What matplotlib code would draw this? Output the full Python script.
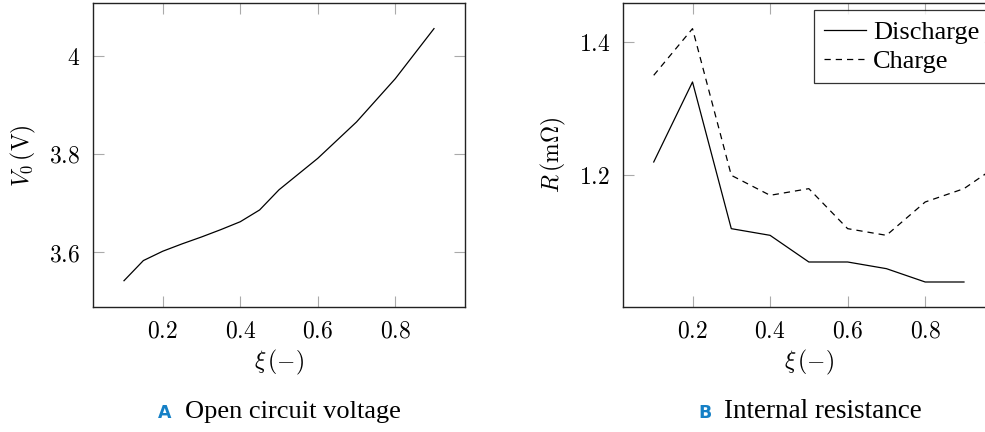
import matplotlib
matplotlib.use("Agg")
import matplotlib.pyplot as plt
import numpy as np

plt.rcParams['mathtext.fontset'] = 'cm'
plt.rcParams['font.family'] = 'serif'
plt.rcParams['font.serif'] = ['DejaVu Serif']

# open circuit voltage vs state of charge
soc_ocv = [0.1, 0.15, 0.2, 0.25, 0.3, 0.35, 0.4, 0.45, 0.5, 0.6, 0.7, 0.8, 0.9]
v0 = [3.542, 3.583, 3.602, 3.617, 3.631, 3.646, 3.662, 3.686, 3.727, 3.791, 3.865, 3.953, 4.055]

# internal resistance
soc_dis = [0.1, 0.2, 0.3, 0.4, 0.5, 0.6, 0.7, 0.8, 0.9]
r_dis = [1.22, 1.34, 1.12, 1.11, 1.07, 1.07, 1.06, 1.04, 1.04]
soc_chg = [0.1, 0.2, 0.3, 0.4, 0.5, 0.6, 0.7, 0.8, 0.9, 1.0]
r_chg = [1.35, 1.42, 1.20, 1.17, 1.18, 1.12, 1.11, 1.16, 1.18, 1.22]

xticks = [0.2, 0.4, 0.6, 0.8]
v_ticks = [3.6, 3.8, 4.0]
v_labels = ['3.6', '3.8', '4']
r_ticks = [1.2, 1.4]
r_labels = ['1.2', '1.4']

fs = 17
W, H = 985, 432
fig = plt.figure(figsize=(W / 100, H / 100), dpi=100)

def px_axes(x0, x1, y0, y1):
    return fig.add_axes([x0 / W, 1 - y1 / H, (x1 - x0) / W, (y1 - y0) / H])

def style(ax):
    for s in ax.spines.values():
        s.set_linewidth(1.0)
        s.set_color('#222222')
    ax.tick_params(direction='in', length=8, width=0.8, color='#aaaaaa',
                   top=True, right=True, labelsize=fs, pad=9)

ax1 = px_axes(93, 465, 3.3, 307)
ax1.plot(soc_ocv, v0, color='black', lw=0.9)
ax1.set_xlim(0.02, 0.98)
ax1.set_ylim(3.4885, 4.1065)
ax1.set_xticks(xticks, ['$%g$' % t for t in xticks])
ax1.set_yticks(v_ticks, ['$%s$' % t for t in v_labels])
ax1.set_xlabel(r'$\xi\,(-)$', fontsize=fs, labelpad=4)
ax1.set_ylabel(r'$V_0\,(\mathrm{V})$', fontsize=fs, labelpad=8)
style(ax1)

ax2 = px_axes(622.7, 995, 3.3, 307)
ax2.plot(soc_dis, r_dis, color='black', lw=0.9, label='Discharge')
ax2.plot(soc_chg, r_chg, color='black', lw=0.9, ls=(0, (5, 4)), label='Charge')
ax2.set_xlim(0.02, 0.98)
ax2.set_ylim(1.0025, 1.458)
ax2.set_xticks(xticks, ['$%g$' % t for t in xticks])
ax2.set_yticks(r_ticks, ['$%s$' % t for t in r_labels])
ax2.set_xlabel(r'$\xi\,(-)$', fontsize=fs, labelpad=4)
ax2.set_ylabel(r'$R\,(\mathrm{m}\Omega)$', fontsize=fs, labelpad=8)
style(ax2)
leg = ax2.legend(loc='upper right', frameon=True, fancybox=False,
                 bbox_to_anchor=(990 / W, 1 - 10 / H), bbox_transform=fig.transFigure,
                 borderaxespad=0.0, handlelength=1.6, handletextpad=0.25,
                 labelspacing=0.2, borderpad=0.4,
                 prop={'family': 'Liberation Serif', 'size': 19})
leg.get_frame().set_edgecolor('black')
leg.get_frame().set_linewidth(0.9)

# sub-captions
blue = '#1580c6'
fig.text(165 / W, 1 - 413 / H, 'A', color=blue, fontsize=12.5, fontweight='bold',
         family='DejaVu Sans', ha='center', va='center')
fig.text(185 / W, 1 - 412 / H, 'Open circuit voltage', fontsize=19,
         family='Liberation Serif', ha='left', va='center')
fig.text(705 / W, 1 - 413 / H, 'B', color=blue, fontsize=12.5, fontweight='bold',
         family='DejaVu Sans', ha='center', va='center')
fig.text(724 / W, 1 - 412 / H, 'Internal resistance', fontsize=19.5,
         family='Liberation Serif', ha='left', va='center')

fig.savefig('out.png', dpi=100)
